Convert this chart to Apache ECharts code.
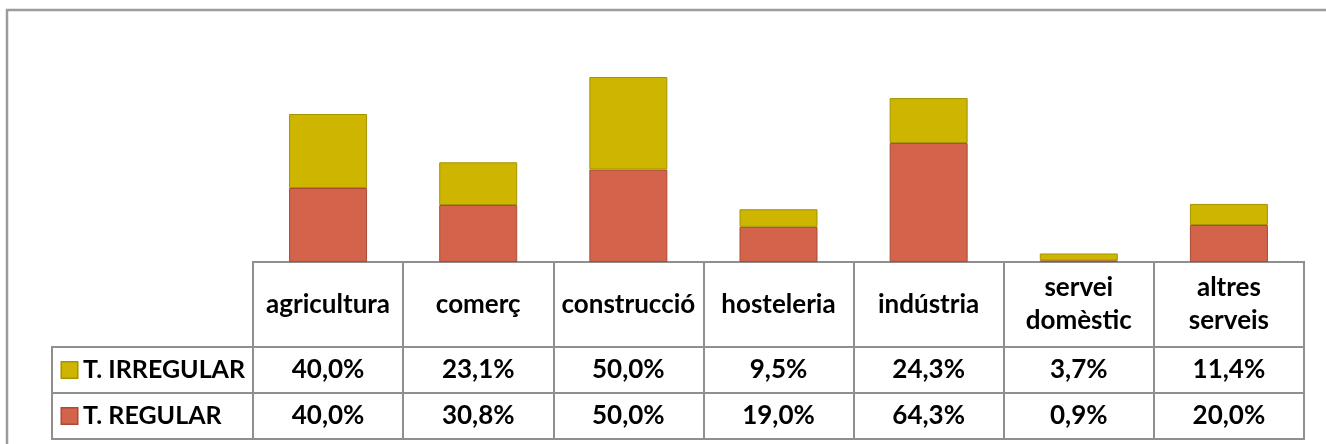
<!DOCTYPE html>
<html>
<head>
<meta charset="utf-8">
<script src="https://cdn.jsdelivr.net/npm/echarts@6/dist/echarts.min.js"></script>
<style>
  html, body { margin: 0; padding: 0; background: #fff; }
  #chart { width: 1326px; height: 444px; }
</style>
</head>
<body>
<div id="chart"></div>
<script>
  // dades
  var categories = ['agricultura', 'comerç', 'construcció', 'hosteleria', 'indústria', 'servei domèstic', 'altres serveis'];
  var irregular = [40.0, 23.1, 50.0, 9.5, 24.3, 3.7, 11.4];
  var regular = [40.0, 30.8, 50.0, 19.0, 64.3, 0.9, 20.0];
  var seriesNames = ['T. IRREGULAR', 'T. REGULAR'];

  var colIrr = '#CDB500', colIrrBorder = '#A69300';
  var colReg = '#D3644B', colRegBorder = '#A94B37';
  var lineCol = '#8f8f8f';
  var font = 'Lato, "Open Sans", sans-serif';

  function pct(v) {
    return v.toFixed(1).replace('.', ',') + '%';
  }

  var tableLeft = 253, tableRight = 22, legendLeft = 52;
  var headTop = 262, headH = 85, rowH = 46;

  var cellText = {
    color: '#000',
    fontFamily: font,
    fontWeight: 'bold',
    fontSize: 26,
    lineHeight: 33,
    verticalAlign: 'middle',
    interval: 0
  };

  function rowAxis(gridIndex, h, formatter) {
    return {
      type: 'category',
      gridIndex: gridIndex,
      data: categories,
      axisLine: { show: false },
      axisTick: { show: false },
      splitLine: { show: true, lineStyle: { color: lineCol, width: 2 } },
      axisLabel: Object.assign({}, cellText, {
        margin: -h / 2,
        formatter: formatter
      })
    };
  }

  function legendLabel(name, color, border) {
    return {
      type: 'category',
      gridIndex: name === seriesNames[0] ? 4 : 5,
      data: [name],
      axisLine: { show: false },
      axisTick: { show: false },
      axisLabel: {
        inside: true,
        margin: 10,
        formatter: '{box|}{t|' + name + '}',
        rich: {
          box: { width: 15, height: 15, backgroundColor: color, borderColor: border, borderWidth: 1.5 },
          t: { color: '#000', fontFamily: font, fontWeight: 'bold', fontSize: 25, padding: [0, 0, 0, 6] }
        }
      }
    };
  }

  var hiddenValue = function (gi) {
    return { type: 'value', gridIndex: gi, show: false };
  };

  var option = {
    animation: false,
    backgroundColor: '#fff',
    graphic: [{
      type: 'rect',
      shape: { x: 7, y: 10, width: 1400, height: 500 },
      style: { fill: 'none', stroke: '#9c9c9c', lineWidth: 2.5 },
      silent: true
    }],
    grid: [
      { left: tableLeft, right: tableRight, top: headTop - 222, height: 222 },
      { left: tableLeft, right: tableRight, top: headTop, height: headH, show: true, borderColor: lineCol, borderWidth: 2 },
      { left: tableLeft, right: tableRight, top: headTop + headH, height: rowH, show: true, borderColor: lineCol, borderWidth: 2 },
      { left: tableLeft, right: tableRight, top: headTop + headH + rowH, height: rowH, show: true, borderColor: lineCol, borderWidth: 2 },
      { left: legendLeft, width: tableLeft - legendLeft, top: headTop + headH, height: rowH, show: true, borderColor: lineCol, borderWidth: 2 },
      { left: legendLeft, width: tableLeft - legendLeft, top: headTop + headH + rowH, height: rowH, show: true, borderColor: lineCol, borderWidth: 2 }
    ],
    xAxis: [
      {
        type: 'category',
        gridIndex: 0,
        data: categories,
        show: false
      },
      rowAxis(1, headH, function (v) { return v.replace(' ', '\n'); }),
      rowAxis(2, rowH, function (v, i) { return pct(irregular[i]); }),
      rowAxis(3, rowH, function (v, i) { return pct(regular[i]); }),
      hiddenValue(4),
      hiddenValue(5)
    ],
    yAxis: [
      { type: 'value', gridIndex: 0, min: 0, max: 120, show: false },
      hiddenValue(1),
      hiddenValue(2),
      hiddenValue(3),
      legendLabel(seriesNames[0], colIrr, colIrrBorder),
      legendLabel(seriesNames[1], colReg, colRegBorder)
    ],
    series: [
      {
        name: seriesNames[1],
        type: 'bar',
        stack: 'total',
        barWidth: 78,
        xAxisIndex: 0,
        yAxisIndex: 0,
        itemStyle: { color: colReg, borderColor: colRegBorder, borderWidth: 1 },
        data: regular
      },
      {
        name: seriesNames[0],
        type: 'bar',
        stack: 'total',
        barWidth: 78,
        xAxisIndex: 0,
        yAxisIndex: 0,
        itemStyle: { color: colIrr, borderColor: colIrrBorder, borderWidth: 1 },
        data: irregular
      }
    ]
  };

  var myChart = echarts.init(document.getElementById('chart'));
  myChart.setOption(option, true);
</script>
</body>
</html>
